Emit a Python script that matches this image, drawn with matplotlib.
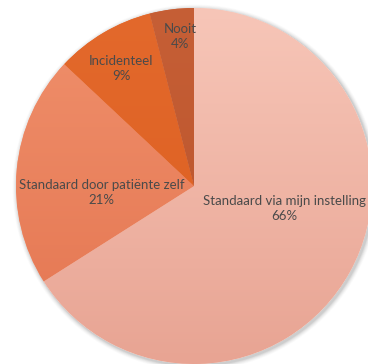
import matplotlib.pyplot as plt
import numpy as np
from matplotlib.colors import to_rgb

plt.rcParams['font.family'] = ['Lato', 'DejaVu Sans']

labels = ["Standaard via mijn instelling", "Standaard door patiënte zelf", "Incidenteel", "Nooit"]
values = [66, 21, 9, 4]
# top / bottom colour of each slice (light gradient like the original)
kleur_boven = ["#F7C6B8", "#F0906C", "#E3692C", "#C65F36"]
kleur_onder = ["#E8A493", "#E47550", "#DC5E1F", "#B8522A"]
# label positions, axes fraction
label_pos = [(0.772, 0.428), (0.277, 0.47), (0.329, 0.813), (0.489, 0.9)]

fig = plt.figure(figsize=(3.68, 3.64), dpi=100, facecolor='w')
ax = fig.add_axes([0, 0, 1, 1])
ax.axis('off')

cx, cy, R = 194, 178, 178

# soft shadow
for i, a in enumerate(np.linspace(0.05, 0.015, 6)):
    ax.add_patch(plt.Circle((cx + 1.5, cy - 1.5), R + 1 + i * 0.8, color='k', alpha=a, lw=0, zorder=0))
ax.add_patch(plt.Circle((cx, cy), R, color='w', lw=0, zorder=0.5))

wedges, _ = ax.pie(values, startangle=90, counterclock=False, center=(cx, cy), radius=R,
                   wedgeprops=dict(linewidth=0))
ax.set_aspect('equal')

t = np.linspace(0, 1, 200)[:, None]
for w, c1, c2 in zip(wedges, kleur_boven, kleur_onder):
    c1 = np.array(to_rgb(c1))
    c2 = np.array(to_rgb(c2))
    grad = (1 - t)[:, :, None] * c1 + t[:, :, None] * c2
    grad = np.repeat(grad, 2, axis=1)
    im = ax.imshow(grad, extent=(cx - R, cx + R, cy - R, cy + R), origin='upper', zorder=2, aspect='auto')
    im.set_clip_path(w)
    w.set_facecolor(c1)

ax.set_xlim(0, 368)
ax.set_ylim(0, 364)

for lab, v, (x, y) in zip(labels, values, label_pos):
    ax.text(x, y, f"{lab}\n{v}%", transform=ax.transAxes, ha='center', va='center',
            fontsize=9.5, color='#4A4A4A', linespacing=1.3, zorder=5)

plt.savefig('out.png', dpi=100)
